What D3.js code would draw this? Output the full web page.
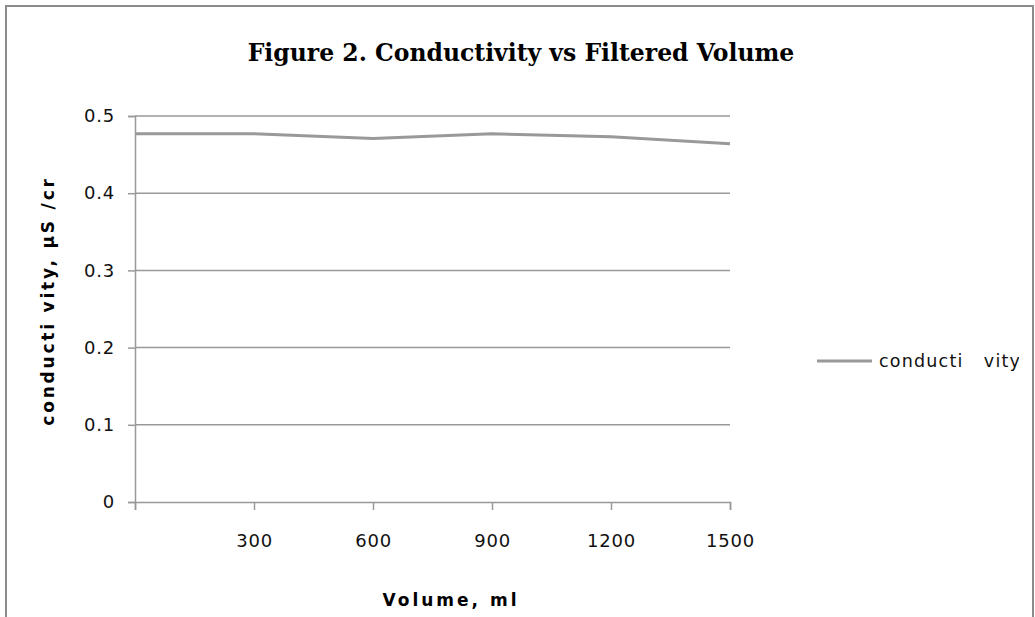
<!doctype html>
<html lang="en">
  <head>
    <meta charset="utf-8">
    <title>Conductivity vs Filtered Volume</title>
    <script src="https://d3js.org/d3.v7.min.js"></script>
    <style>
      body { margin: 0; background: #fff; }
    </style>
  </head>

  <body>
    <svg width="1035" height="617"></svg>

    <script>
      var volumes = [0, 300, 600, 900, 1200, 1500];
      var conductivity = [0.477, 0.477, 0.471, 0.477, 0.473, 0.464];
      var xTicks = [0, 300, 600, 900, 1200, 1500];
      var yTicks = [0, 0.1, 0.2, 0.3, 0.4, 0.5];
      var seriesName = 'conducti   vity';

      var svg = d3.select('svg');
      var gray = '#999';

      // chart frame (bottom edge is cut off in the original)
      svg.append('path')
          .attr('d', 'M6,617 V6 H1033 V617')
          .attr('fill', 'none')
          .attr('stroke', '#8c8c8c')
          .attr('stroke-width', 2);

      var x = d3.scaleLinear().domain([0, 1500]).range([135, 730]);
      var y = d3.scaleLinear().domain([0, 0.5]).range([502, 116]);

      // horizontal gridlines
      svg.append('g').selectAll('line').data(yTicks.slice(1)).enter()
          .append('line')
          .attr('x1', x(0)).attr('x2', x(1500))
          .attr('y1', function(d){ return y(d); })
          .attr('y2', function(d){ return y(d); })
          .attr('stroke', gray)
          .attr('stroke-width', 1.5);

      var yAxis = svg.append('g')
          .attr('transform', 'translate(' + x(0) + ',0)')
          .call(d3.axisLeft(y).tickValues(yTicks).tickSize(7).tickPadding(13)
            .tickFormat(function(d){ return d === 0 ? '0' : d3.format('.1f')(d); }));

      var xAxis = svg.append('g')
          .attr('transform', 'translate(0,' + y(0) + ')')
          .call(d3.axisBottom(x).tickValues(xTicks).tickSize(8).tickPadding(24)
            .tickFormat(function(d){ return d === 0 ? '' : d; }));

      [yAxis, xAxis].forEach(function(a){
        a.select('.domain').attr('stroke', gray).attr('stroke-width', 1.5);
        a.selectAll('.tick line').attr('stroke', gray).attr('stroke-width', 1.5);
        a.selectAll('.tick text')
            .attr('fill', '#111')
            .style('font-family', 'DejaVu Sans')
            .style('font-size', '18px')
            .style('letter-spacing', '0.8px');
      });

      var line = d3.line()
          .x(function(d, i){ return x(volumes[i]); })
          .y(function(d){ return y(d); });

      svg.append('path')
          .datum(conductivity)
          .attr('d', line)
          .attr('fill', 'none')
          .attr('stroke', gray)
          .attr('stroke-width', 3);

      // title
      svg.append('text')
          .attr('x', 521).attr('y', 61)
          .attr('text-anchor', 'middle')
          .style('font-family', 'DejaVu Serif')
          .style('font-weight', 'bold')
          .style('font-size', '23.5px')
          .text('Figure 2. Conductivity vs Filtered Volume');

      // axis titles
      svg.append('text')
          .attr('transform', 'translate(54,301) rotate(-90)')
          .attr('text-anchor', 'middle')
          .style('font-family', 'DejaVu Sans')
          .style('font-weight', 'bold')
          .style('font-size', '17px')
          .style('letter-spacing', '2.8px')
          .text('conducti vity, µS /cr');

      svg.append('text')
          .attr('x', 451).attr('y', 606)
          .attr('text-anchor', 'middle')
          .style('font-family', 'DejaVu Sans')
          .style('font-weight', 'bold')
          .style('font-size', '17px')
          .style('letter-spacing', '3px')
          .text('Volume, ml');

      // legend, clipped at the right like the original
      svg.append('clipPath').attr('id', 'legclip')
          .append('rect').attr('x', 780).attr('y', 330).attr('width', 239).attr('height', 70);

      var leg = svg.append('g').attr('clip-path', 'url(#legclip)');
      leg.append('line')
          .attr('x1', 817).attr('x2', 872)
          .attr('y1', 361).attr('y2', 361)
          .attr('stroke', gray)
          .attr('stroke-width', 3);
      leg.append('text')
          .attr('x', 879).attr('y', 367)
          .style('font-family', 'DejaVu Sans')
          .style('font-size', '17.5px')
          .style('letter-spacing', '1.2px')
          .attr('fill', '#111')
          .style('white-space', 'pre')
          .text(seriesName);
    </script>
  </body>
</html>
